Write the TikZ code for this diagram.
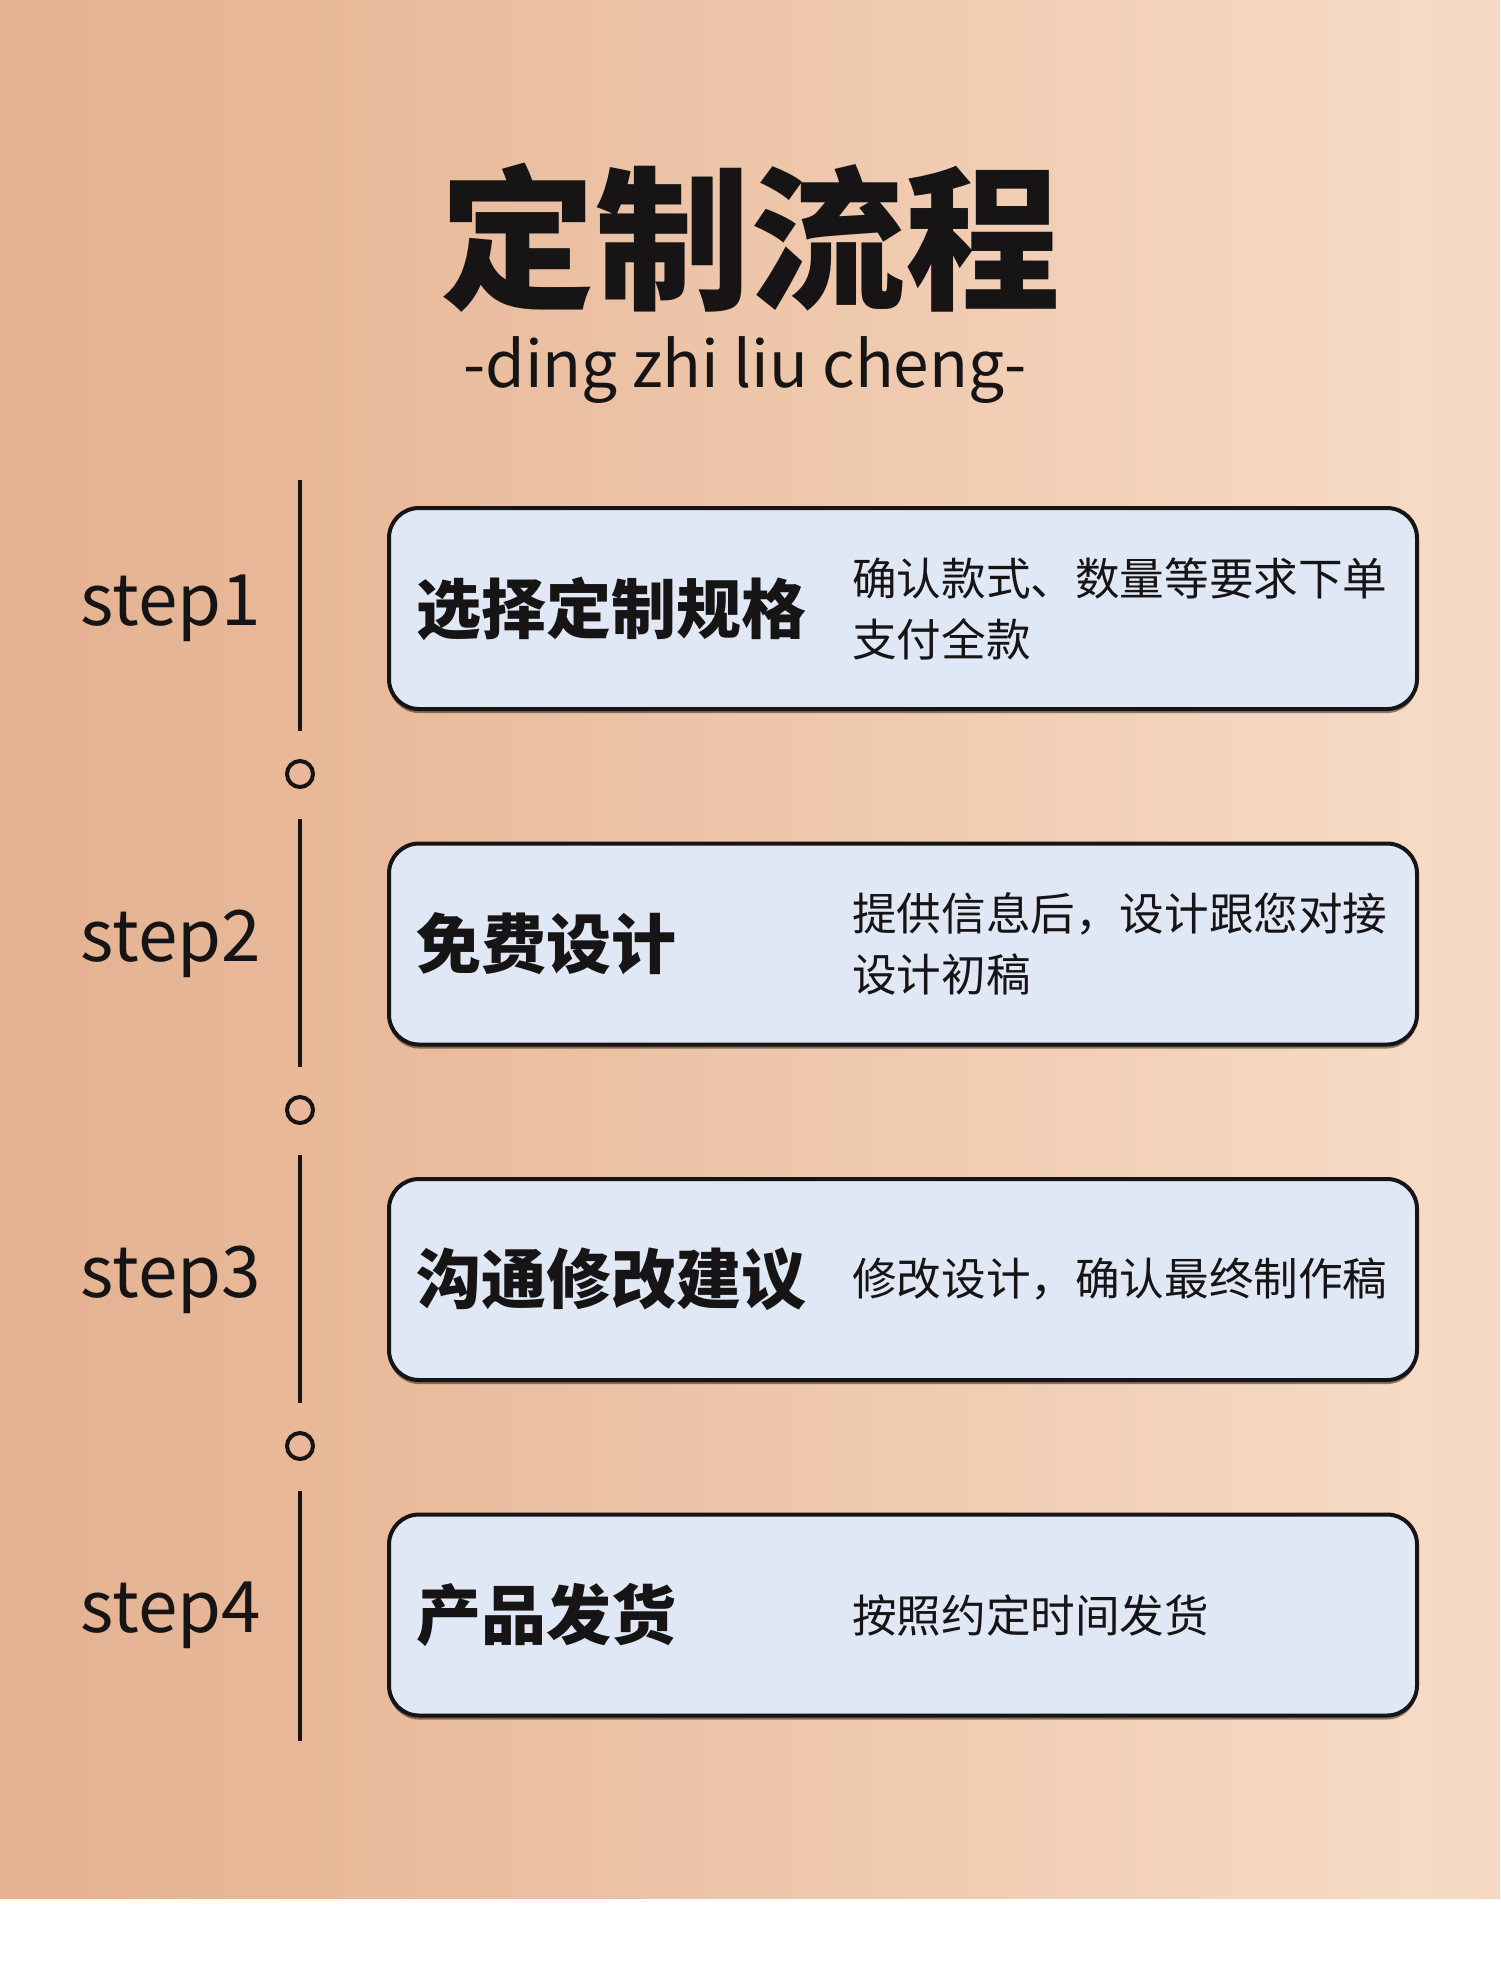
\documentclass[tikz,border=0pt]{standalone}
\usepackage{fontspec}
\setmainfont{Noto Sans CJK SC}
\usetikzlibrary{positioning,shadows}
\definecolor{ink}{RGB}{22,20,20}
\definecolor{boxfill}{RGB}{225,232,245}
\definecolor{bgA}{RGB}{218,162,128}
\definecolor{bgB}{RGB}{232,184,152}
\definecolor{bgC}{RGB}{246,218,196}
\definecolor{bgD}{RGB}{236,200,176}
\pgfdeclarehorizontalshading{peach}{100bp}{color(0bp)=(bgA); color(35bp)=(bgB); color(72bp)=(bgC); color(100bp)=(bgD)}

\begin{document}
\begin{tikzpicture}[
  x=1pt,y=-1pt,
  font=\fontsize{44.6}{61}\selectfont,
  stepbox/.style={draw=ink,fill=boxfill,line width=4pt,rounded corners=30pt,
    minimum width=1028pt,minimum height=201pt,
    drop shadow={shadow xshift=0pt,shadow yshift=-4pt,fill=black,opacity=0.45}},
  ttl/.style={font=\fontsize{65}{65}\selectfont\bfseries,text=ink,inner sep=0pt},
  desc/.style={align=left,text=ink,inner sep=0pt},
  steplbl/.style={font=\fontsize{71}{71}\selectfont,text=ink,inner sep=0pt},
  ring/.style={circle,draw=ink,line width=4pt,minimum size=26pt,inner sep=0pt},
  tl/.style={draw=ink,line width=4pt}
]
\useasboundingbox (0,0) rectangle (1500,1966);
\fill[white] (0,0) rectangle (1500,1966);
\shade[shading=peach] (0,0) rectangle (1500,1898);

\node[font=\fontsize{155}{155}\selectfont\bfseries,text=ink] (title) at (750,238) {定制流程};
\node[font=\fontsize{64}{64}\selectfont,text=ink] (sub) at (745,370) {-ding zhi liu cheng-};

\node[stepbox] (box1) at (903,608.5) {};
\node[stepbox,below=130.5pt of box1] (box2) {};
\node[stepbox,below=130.5pt of box2] (box3) {};
\node[stepbox,below=130.5pt of box3] (box4) {};

\node[ttl,right=29pt of box1.west] (t1) {选择定制规格};
\node[ttl,right=29pt of box2.west] (t2) {免费设计};
\node[ttl,right=29pt of box3.west] (t3) {沟通修改建议};
\node[ttl,right=29pt of box4.west] (t4) {产品发货};

\node[desc,right=465pt of box1.west] (d1) {确认款式、数量等要求下单\\支付全款};
\node[desc,right=465pt of box2.west] (d2) {提供信息后，设计跟您对接\\设计初稿};
\node[desc,right=465pt of box3.west] (d3) {修改设计，确认最终制作稿};
\node[desc,right=465pt of box4.west] (d4) {按照约定时间发货};

\node[steplbl,left=126pt of box1.west] (s1) {step1};
\node[steplbl,left=126pt of box2.west] (s2) {step2};
\node[steplbl,left=126pt of box3.west] (s3) {step3};
\node[steplbl,left=126pt of box4.west] (s4) {step4};

\coordinate (top) at (300,480);
\coordinate (bot) at (300,1741);
\node[ring] (r1) at (300,774) {};
\node[ring] (r2) at (300,1110) {};
\node[ring] (r3) at (300,1446) {};
\draw[tl,shorten >=28pt] (top) -- (r1);
\draw[tl,shorten <=30pt,shorten >=28pt] (r1) -- (r2);
\draw[tl,shorten <=30pt,shorten >=28pt] (r2) -- (r3);
\draw[tl,shorten <=30pt] (r3) -- (bot);
\end{tikzpicture}
\end{document}
